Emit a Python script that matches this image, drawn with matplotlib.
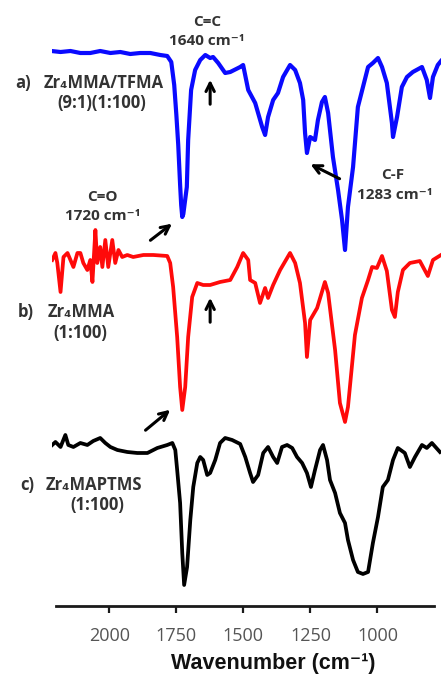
import numpy as np
import matplotlib
matplotlib.use("Agg")
import matplotlib.pyplot as plt

plt.rcParams['font.family'] = ['Open Sans', 'DejaVu Sans']

# wavenumber (cm-1) / offset transmittance (arb. units)
blue_wn = [2216, 2182, 2145, 2108, 2071, 2034, 1996, 1959, 1922, 1885, 1847, 1810, 1784, 1769,
           1758, 1750, 1743, 1736, 1732, 1728, 1724, 1711, 1706, 1695, 1680, 1661, 1642, 1624,
           1613, 1594, 1568, 1549, 1512, 1501, 1482, 1456, 1430, 1419, 1408, 1389, 1371, 1352,
           1326, 1307, 1289, 1277, 1270, 1263, 1251, 1233, 1222, 1207, 1196, 1184, 1166, 1147,
           1132, 1121, 1110, 1091, 1073, 1035, 1017, 998, 983, 965, 946, 942, 927, 909, 890,
           868, 834, 816, 804, 793, 775, 763]
blue_t = [555, 554, 555, 553, 553, 555, 553, 554, 552, 553, 553, 551, 550, 544,
          521, 491, 461, 421, 401, 389, 392, 419, 466, 516, 536, 546, 551, 548,
          549, 543, 533, 534, 539, 541, 516, 503, 479, 471, 489, 506, 513, 529,
          541, 536, 523, 506, 473, 453, 469, 466, 486, 504, 509, 493, 449, 416,
          386, 356, 399, 439, 499, 539, 543, 548, 539, 523, 483, 469, 489, 519, 529,
          534, 539, 526, 508, 529, 541, 545]

red_wn = [2213, 2201, 2194, 2182, 2171, 2156, 2145, 2134, 2119, 2108, 2097, 2082, 2071, 2063,
          2052, 2045, 2034, 2026, 2015, 2004, 1989, 1978, 1966, 1952, 1933, 1911, 1873, 1836,
          1784, 1773, 1762, 1747, 1736, 1728, 1717, 1706, 1691, 1672, 1650, 1624, 1587, 1549,
          1523, 1501, 1482, 1475, 1456, 1438, 1419, 1408, 1389, 1363, 1326, 1307, 1289, 1270,
          1263, 1251, 1225, 1196, 1184, 1158, 1140, 1121, 1110, 1084, 1058, 1035, 1020, 1002,
          983, 965, 946, 935, 924, 905, 879, 842, 812, 793, 763]
red_t = [346, 353, 343, 314, 349, 353, 346, 339, 353, 353, 343, 336, 346, 324,
         376, 343, 359, 339, 366, 339, 366, 343, 356, 349, 351, 349, 351, 351,
         350, 343, 319, 269, 219, 196, 219, 269, 309, 323, 321, 321, 324, 326,
         339, 353, 346, 326, 323, 303, 318, 308, 321, 336, 353, 343, 323, 283,
         249, 286, 298, 324, 313, 256, 203, 184, 199, 271, 308, 326, 339, 338,
         350, 335, 296, 289, 314, 336, 343, 345, 330, 346, 351]

black_wn = [2213, 2201, 2182, 2164, 2153, 2134, 2108, 2082, 2060, 2034, 2015, 1996, 1970, 1933,
            1896, 1858, 1821, 1784, 1765, 1754, 1747, 1736, 1728, 1721, 1710, 1698, 1687, 1672,
            1661, 1650, 1635, 1624, 1605, 1587, 1568, 1542, 1512, 1493, 1475, 1464, 1445, 1426,
            1408, 1389, 1374, 1356, 1337, 1318, 1300, 1281, 1263, 1248, 1233, 1214, 1203, 1188,
            1177, 1158, 1140, 1121, 1110, 1091, 1073, 1054, 1035, 1017, 998, 980, 961, 942,
            924, 898, 879, 860, 834, 816, 797, 767]
black_t = [161, 164, 159, 171, 161, 159, 163, 161, 165, 168, 163, 159, 156, 154,
           153, 153, 158, 161, 163, 156, 136, 103, 53, 21, 39, 86, 119, 143,
           149, 146, 131, 133, 146, 163, 168, 166, 162, 149, 133, 124, 131, 153,
           159, 149, 143, 159, 161, 158, 149, 143, 133, 119, 136, 156, 161, 146,
           126, 113, 93, 83, 66, 46, 34, 32, 34, 63, 89, 119, 126, 146,
           158, 153, 139, 149, 161, 158, 163, 154]

tick_values = [2000, 1750, 1500, 1250, 1000]

fig = plt.figure(figsize=(4.41, 6.77), dpi=100)
ax = fig.add_axes([0.1172, 0.1049, 0.8828, 0.8951])

ax.plot(blue_wn, blue_t, color='#0a0aff', lw=3.0, solid_joinstyle='round')
ax.plot(red_wn, red_t, color='#ff0a0a', lw=2.7, solid_joinstyle='round')
ax.plot(black_wn, black_t, color='black', lw=2.7, solid_joinstyle='round')

ax.set_xlim(2215, 763)
ax.set_ylim(0, 606)

for side in ['top', 'right', 'left']:
    ax.spines[side].set_visible(False)
ax.spines['bottom'].set_linewidth(2.0)
ax.spines['bottom'].set_color('#1a1a1a')
ax.spines['bottom'].set_bounds(2200, 790)
ax.set_yticks([])
ax.set_xticks(tick_values)
ax.tick_params(axis='x', direction='out', length=5, width=1.6, color='#1a1a1a',
               labelsize=13, labelcolor='#555555', pad=10)

ax.set_xlabel('Wavenumber (cm⁻¹)', family=['Liberation Sans', 'DejaVu Sans'],
              fontsize=15.5, fontweight='bold', color='#111111')
ax.xaxis.set_label_coords(0.57, -0.078)

txt = '#333333'
lbl = dict(fontsize=12, fontweight='bold', color=txt, va='center')

# sample labels
ax.text(2350, 523, 'a)', ha='left', **lbl)
ax.text(2246, 523, 'Zr₄MMA/TFMA', ha='left', **lbl)
ax.text(2030, 503, '(9:1)(1:100)', ha='center', **lbl)

ax.text(2343, 294, 'b)', ha='left', **lbl)
ax.text(2231, 294, 'Zr₄MMA', ha='left', **lbl)
ax.text(2108, 273, '(1:100)', ha='center', **lbl)

ax.text(2331, 121, 'c)', ha='left', **lbl)
ax.text(2238, 121, 'Zr₄MAPTMS', ha='left', **lbl)
ax.text(2045, 101, '(1:100)', ha='center', **lbl)

# band annotations
ann = dict(fontsize=11, fontweight='bold', color=txt, ha='center', va='center')
ax.text(1635, 584, 'C=C', **ann)
ax.text(1635, 565, '1640 cm⁻¹', **ann)
ax.text(2026, 409, 'C=O', **ann)
ax.text(2026, 390, '1720 cm⁻¹', **ann)
ax.text(942, 431, 'C-F', **ann)
ax.text(935, 411, '1283 cm⁻¹', **ann)

arr = dict(arrowstyle='->', lw=2.2, color='black', mutation_scale=15)
ax.annotate('', xy=(1624, 529), xytext=(1624, 499), arrowprops=arr)
ax.annotate('', xy=(1624, 311), xytext=(1624, 281), arrowprops=arr)
ax.annotate('', xy=(1758, 384), xytext=(1855, 364), arrowprops=arr)
ax.annotate('', xy=(1259, 443), xytext=(1132, 426), arrowprops=arr)
ax.annotate('', xy=(1765, 198), xytext=(1873, 174), arrowprops=arr)

fig.savefig('out.png', dpi=100)
